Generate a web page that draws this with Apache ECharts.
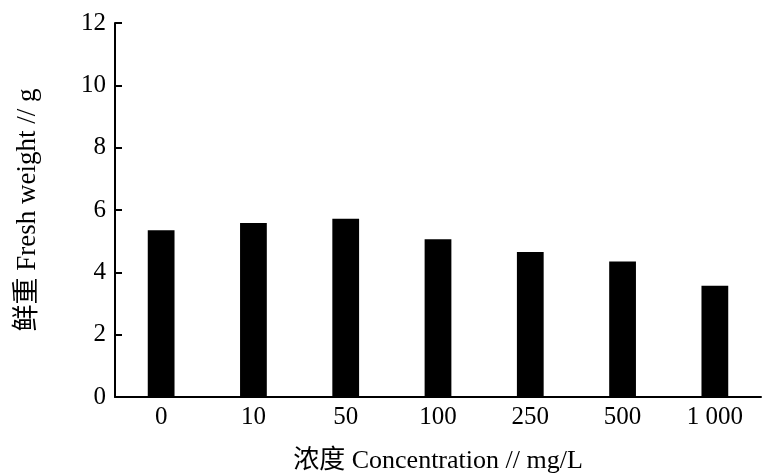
<!DOCTYPE html>
<html>
<head>
<meta charset="utf-8">
<script src="https://cdn.jsdelivr.net/npm/echarts@6/dist/echarts.min.js"></script>
<style>
  html, body { margin: 0; padding: 0; background: #fff; }
  #chart { width: 778px; height: 475px; }
</style>
</head>
<body>
<div id="chart"></div>
<script>
const categories = ["0", "10", "50", "100", "250", "500", "1 000"]
const freshWeight = [5.35, 5.58, 5.72, 5.06, 4.65, 4.35, 3.57]

const font = '"Liberation Serif", "Noto Sans CJK SC", serif'

const option = {
  animation: false,
  backgroundColor: "#fff",
  grid: { left: 115, right: 17, top: 23, bottom: 78, containLabel: false, outerBoundsMode: "none" },
  xAxis: {
    type: "category",
    data: categories,
    name: "浓度 Concentration // mg/L",
    nameLocation: "middle",
    nameGap: 51,
    nameTextStyle: { color: "#000", fontSize: 26, fontFamily: font },
    axisLine: { lineStyle: { color: "#000", width: 2 } },
    axisTick: { inside: true, length: 7, lineStyle: { color: "#000", width: 2 } },
    axisLabel: { color: "#000", fontSize: 25, fontFamily: font, margin: 8 }
  },
  yAxis: {
    type: "value",
    min: 0,
    max: 12,
    interval: 2,
    name: "鲜重 Fresh weight // g",
    nameLocation: "middle",
    nameGap: 74,
    nameTextStyle: { color: "#000", fontSize: 27, fontFamily: font },
    splitLine: { show: false },
    axisLine: { show: true, lineStyle: { color: "#000", width: 2 } },
    axisTick: { show: true, inside: true, length: 7, lineStyle: { color: "#000", width: 2 } },
    axisLabel: { color: "#000", fontSize: 25, fontFamily: font, margin: 9 }
  },
  series: [
    {
      type: "bar",
      data: freshWeight,
      barWidth: "29%",
      itemStyle: { color: "#000" }
    }
  ]
}

echarts.init(document.getElementById("chart")).setOption(option)
</script>
</body>
</html>
